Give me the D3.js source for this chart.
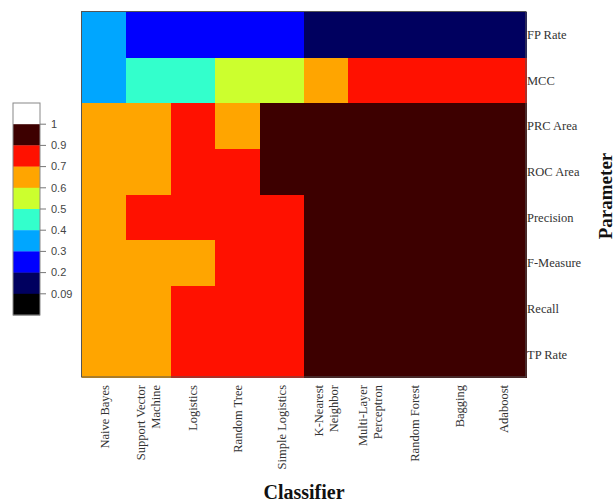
<!DOCTYPE html>
<html>
<head>
<meta charset="utf-8">
<script src="https://cdn.jsdelivr.net/npm/d3@7"></script>
<style>
  body { margin: 0; background: #fff; }
  svg { display: block; }
</style>
</head>
<body>
<script>
// classifiers (columns) and parameters (rows, top to bottom)
var classifiers = ["Naive Bayes", "Support Vector\nMachine", "Logistics", "Random Tree", "Simple Logistics",
    "K-Nearest\nNeighbor", "Multi-Layer\nPerceptron", "Random Forest", "Bagging", "Adaboost"];
var parameters = ["FP Rate", "MCC", "PRC Area", "ROC Area", "Precision", "F-Measure", "Recall", "TP Rate"];

// values per parameter, one per classifier (estimated from the colour bins)
var fpRate    = [0.35, 0.25, 0.24, 0.22, 0.21, 0.12, 0.11, 0.10, 0.11, 0.12];
var mcc       = [0.34, 0.45, 0.47, 0.55, 0.56, 0.65, 0.78, 0.80, 0.79, 0.77];
var prcArea   = [0.66, 0.64, 0.75, 0.68, 0.93, 0.94, 0.95, 0.96, 0.95, 0.94];
var rocArea   = [0.67, 0.65, 0.76, 0.74, 0.92, 0.93, 0.94, 0.96, 0.95, 0.93];
var precision = [0.68, 0.72, 0.74, 0.76, 0.78, 0.91, 0.92, 0.93, 0.92, 0.91];
var fMeasure  = [0.63, 0.66, 0.69, 0.72, 0.75, 0.90, 0.91, 0.92, 0.91, 0.90];
var recall    = [0.64, 0.67, 0.71, 0.73, 0.76, 0.90, 0.91, 0.92, 0.91, 0.90];
var tpRate    = [0.64, 0.67, 0.71, 0.73, 0.76, 0.90, 0.91, 0.92, 0.91, 0.90];
var rows = [fpRate, mcc, prcArea, rocArea, precision, fMeasure, recall, tpRate];

// colour bins
var thresholds = [0.09, 0.2, 0.3, 0.4, 0.5, 0.6, 0.7, 0.9, 1];
var binColors = ["#000000", "#00005f", "#0000ff", "#00a6ff", "#33ffcc", "#ccff2e", "#ffa500", "#ff1100", "#3d0000", "#ffffff"];
var legendTicks = ["1", "0.9", "0.7", "0.6", "0.5", "0.4", "0.3", "0.2", "0.09"];

var cells = [];
rows.forEach(function(r, i) {
    r.forEach(function(v, j) {
        cells.push({ row: parameters[i], col: classifiers[j], value: v });
    });
});

var svg = d3.select("body").append("svg")
    .attr("width", 615)
    .attr("height", 502);

var x = d3.scaleBand().domain(classifiers).range([82, 526]);
var y = d3.scaleBand().domain(parameters).range([12, 377]);
var color = d3.scaleThreshold().domain(thresholds).range(binColors);

svg.append("g")
    .attr("shape-rendering", "crispEdges")
    .selectAll("rect")
    .data(cells)
    .enter()
    .append("rect")
    .attr("x", function(d) { return Math.round(x(d.col)); })
    .attr("y", function(d) { return Math.round(y(d.row)); })
    .attr("width", function(d) { return Math.round(x(d.col) + x.bandwidth()) - Math.round(x(d.col)) + 1; })
    .attr("height", function(d) { return Math.round(y(d.row) + y.bandwidth()) - Math.round(y(d.row)) + 1; })
    .attr("fill", function(d) { return color(d.value); });

svg.append("rect")
    .attr("x", 81.5).attr("y", 11.5)
    .attr("width", 444.5).attr("height", 365.5)
    .attr("fill", "none")
    .attr("stroke", "#555")
    .attr("stroke-width", 1);

// right labels (parameters)
svg.append("g").selectAll("text")
    .data(parameters)
    .enter()
    .append("text")
    .attr("x", 527)
    .attr("y", function(d) { return y(d) + y.bandwidth() / 2; })
    .attr("dy", "0.35em")
    .attr("font-family", "Liberation Serif, serif")
    .attr("font-size", "12.5px")
    .attr("fill", "#333")
    .text(function(d) { return d; });

// bottom labels (classifiers), rotated
var xl = svg.append("g").selectAll("text")
    .data(classifiers)
    .enter()
    .append("text")
    .attr("transform", function(d) {
        return "translate(" + (x(d) + x.bandwidth() / 2) + ",385) rotate(-90)";
    })
    .attr("text-anchor", "end")
    .attr("font-family", "Liberation Serif, serif")
    .attr("font-size", "12.5px")
    .attr("fill", "#333");

xl.each(function(d) {
    var lines = d.split("\n");
    var t = d3.select(this);
    lines.forEach(function(l, i) {
        t.append("tspan")
            .attr("x", 0)
            .attr("y", (i - (lines.length - 1) / 2) * 15)
            .attr("dy", "0.35em")
            .text(l);
    });
});

// axis titles
svg.append("text")
    .attr("x", 304)
    .attr("y", 499)
    .attr("text-anchor", "middle")
    .attr("font-family", "Liberation Serif, serif")
    .attr("font-weight", "bold")
    .attr("font-size", "20px")
    .attr("fill", "#111")
    .text("Classifier");

svg.append("text")
    .attr("transform", "translate(612,196) rotate(-90)")
    .attr("text-anchor", "middle")
    .attr("font-family", "Liberation Serif, serif")
    .attr("font-weight", "bold")
    .attr("font-size", "19px")
    .attr("fill", "#111")
    .text("Parameter");

// colour legend, white on top down to black
var legendBins = binColors.slice().reverse();
var ly = d3.scaleLinear().domain([0, legendBins.length]).range([103, 315]);

var legend = svg.append("g");
legend.selectAll("rect")
    .data(legendBins)
    .enter()
    .append("rect")
    .attr("x", 13)
    .attr("y", function(d, i) { return ly(i); })
    .attr("width", 27)
    .attr("height", ly(1) - ly(0) + 0.3)
    .attr("fill", function(d) { return d; });

legend.append("rect")
    .attr("x", 13).attr("y", 103)
    .attr("width", 27).attr("height", 212)
    .attr("fill", "none")
    .attr("stroke", "#888")
    .attr("stroke-width", 1);

var lt = legend.selectAll(".tick")
    .data(legendTicks)
    .enter()
    .append("g")
    .attr("class", "tick")
    .attr("transform", function(d, i) { return "translate(40," + ly(i + 1) + ")"; });

lt.append("line")
    .attr("x1", 0).attr("x2", 6)
    .attr("stroke", "#777");

lt.append("text")
    .attr("x", 11)
    .attr("dy", "0.35em")
    .attr("font-family", "Liberation Sans, Arial, sans-serif")
    .attr("font-size", "11px")
    .attr("fill", "#444")
    .text(function(d) { return d; });
</script>
</body>
</html>
